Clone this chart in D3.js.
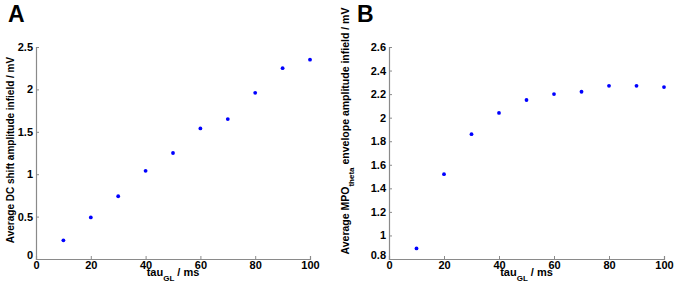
<!DOCTYPE html>
<html>
<head>
<meta charset="utf-8">
<script src="https://cdn.jsdelivr.net/npm/d3@7"></script>
<style>
  body { margin: 0; background: #fff; }
  svg text { font-family: "Liberation Sans", Arial, Helvetica, sans-serif; font-weight: bold; fill: #000; }
</style>
</head>
<body>
<div id="chart"></div>
<script>
// tau_GL values (ms)
const tauValues = [10, 20, 30, 40, 50, 60, 70, 80, 90, 100];
// panel A: average DC shift amplitude infield (mV)
const dcShift = [0.22, 0.49, 0.74, 1.04, 1.25, 1.54, 1.65, 1.96, 2.25, 2.35];
// panel B: average MPO theta envelope amplitude infield (mV)
const mpoTheta = [0.89, 1.52, 1.86, 2.04, 2.15, 2.20, 2.22, 2.27, 2.27, 2.26];

const xTicks = [0, 20, 40, 60, 80, 100];
const yTicksA = [0, 0.5, 1, 1.5, 2, 2.5];
const yTicksB = [0.8, 1, 1.2, 1.4, 1.6, 1.8, 2, 2.2, 2.4, 2.6];

const width = 680, height = 292;

const svg = d3.select("#chart")
    .append("svg")
    .attr("width", width)
    .attr("height", height);

function drawPanel(opts) {
    const x = d3.scaleLinear().domain([0, 100]).range([opts.left, opts.right]);
    const y = d3.scaleLinear().domain(opts.yDomain).range([259, 47]);

    // Panel letter
    svg.append("text")
        .attr("x", opts.letterX)
        .attr("y", 22)
        .style("font-size", "23px")
        .text(opts.letter);

    // axes (ticks point inward, grey lines)
    const xAxis = svg.append("g")
        .attr("transform", `translate(0, ${y.range()[0]})`)
        .call(d3.axisBottom(x).tickValues(xTicks).tickSize(-3).tickPadding(3)
            .tickFormat(d3.format("d")));
    const yAxis = svg.append("g")
        .attr("transform", `translate(${opts.left}, 0)`)
        .call(d3.axisLeft(y).tickValues(opts.yTicks).tickSize(-3).tickPadding(3)
            .tickFormat(d => String(+d.toFixed(1))));

    [xAxis, yAxis].forEach(ax => {
        ax.select(".domain").attr("stroke", "#8a8a8a").attr("stroke-width", 1.2);
        ax.selectAll(".tick line").attr("stroke", "#8a8a8a");
        ax.selectAll(".tick text")
            .style("font-size", "11px")
            .style("font-family", "'Liberation Sans', Arial, sans-serif")
            .style("font-weight", "bold")
            .attr("fill", "#000");
    });
    xAxis.selectAll(".tick text").attr("dy", "0.6em");
    // the bottom-left zero on y axis sits a bit higher
    yAxis.selectAll(".tick text").filter((d, i) => i === 0).attr("dy", "-0.05em");

    // x label: tau_GL / ms
    const xl = svg.append("text")
        .attr("x", (opts.left + opts.right) / 2)
        .attr("y", 276)
        .attr("text-anchor", "middle")
        .style("font-size", "11px");
    xl.append("tspan").text("tau");
    xl.append("tspan").attr("dy", 5).style("font-size", "8px").text("GL");
    xl.append("tspan").attr("dy", -5).text(" / ms");

    // y label
    const yl = svg.append("text")
        .attr("transform", `translate(${opts.yLabelX}, ${opts.yLabelY}) rotate(-90)`)
        .attr("text-anchor", "middle")
        .style("font-size", opts.yLabelSize);
    opts.yLabel(yl);

    // dots
    svg.append("g")
        .selectAll("circle")
        .data(opts.values)
        .enter()
        .append("circle")
        .attr("cx", (d, i) => x(tauValues[i]))
        .attr("cy", d => y(d))
        .attr("r", 1.9)
        .attr("fill", "#0000ff");
}

drawPanel({
    letter: "A", letterX: 8,
    left: 36, right: 310,
    yDomain: [0, 2.5], yTicks: yTicksA,
    values: dcShift,
    yLabelX: 14, yLabelY: 150, yLabelSize: "10px",
    yLabel: t => t.text("Average DC shift amplitude infield / mV")
});

drawPanel({
    letter: "B", letterX: 357,
    left: 389, right: 664,
    yDomain: [0.8, 2.6], yTicks: yTicksB,
    values: mpoTheta,
    yLabelX: 349, yLabelY: 131, yLabelSize: "10.5px",
    yLabel: t => {
        t.append("tspan").text("Average MPO");
        t.append("tspan").attr("dy", 5).style("font-size", "8px").text("theta");
        t.append("tspan").attr("dy", -5).text(" envelope amplitude infield / mV");
    }
});
</script>
</body>
</html>
